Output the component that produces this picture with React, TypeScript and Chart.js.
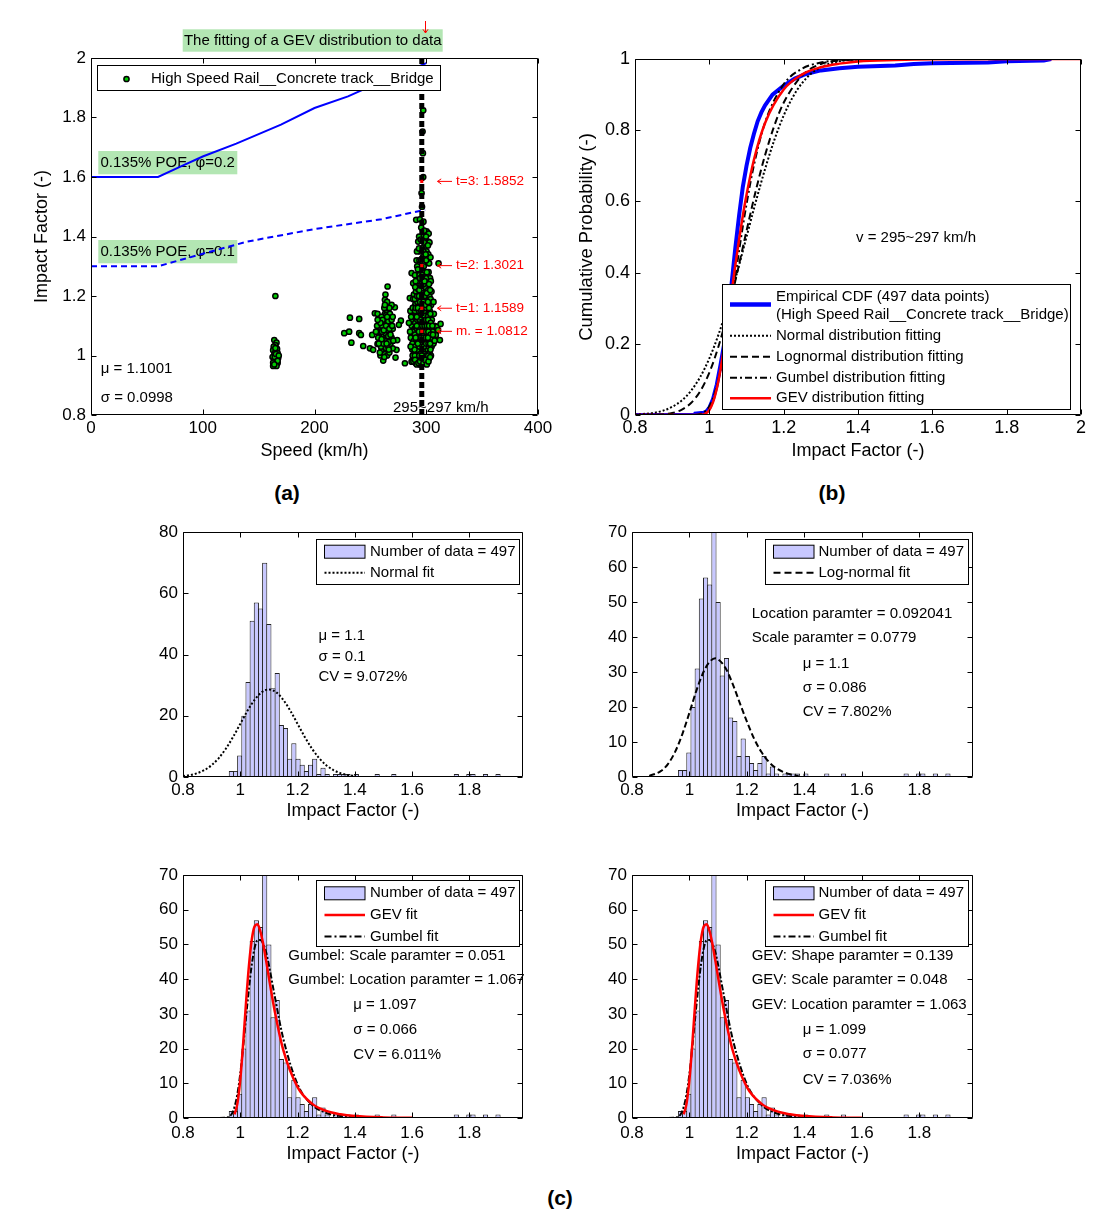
import React, { useEffect, useRef } from 'react';
import { Chart, registerables } from 'chart.js';

Chart.register(...registerables);

const FONT = "'Liberation Sans', Arial, Helvetica, sans-serif";
Chart.defaults.font.family = FONT;
Chart.defaults.color = '#000';

type Pt = [number, number];

/* ======================= (a) Impact factor vs speed ======================= */
const SPEED_TICKS = [0, 100, 200, 300, 400];
const IF_TICKS_A = [0.8, 1, 1.2, 1.4, 1.6, 1.8, 2];

const SCATTER_165: Pt[] = [
  [165, 1.2], [164, 1.052], [166, 1.043], [165, 1.035], [163.5, 1.03], [166.5, 1.022], [163, 1.018],
  [165, 1.012], [167, 1.008], [164, 1.003], [166, 1.0], [162.5, 0.995], [165, 0.99], [167.5, 0.992],
  [164, 0.985], [166, 0.98], [163, 0.976], [165.5, 0.97], [167, 0.975], [166, 0.965], [164.5, 0.995],
  [165.5, 1.005], [165, 1.025], [167, 0.982], [163, 0.965], [168, 1.0], [164, 0.97],
];

const SCATTER_265: Pt[] = [
  [231.7, 1.127], [240, 1.123], [226.6, 1.075], [231, 1.08], [233, 1.043], [240, 1.075], [241.5, 1.069],
  [243.6, 1.032], [249.6, 1.024], [252.5, 1.019], [251.6, 1.069], [254, 1.142], [256.4, 1.14],
  [256.4, 1.039], [261.5, 0.983], [272.5, 0.993], [287.4, 0.983], [277.3, 1.117], [275.5, 1.103],
  [271.9, 1.162], [269, 1.17], [274, 1.052], [273.4, 1.019], [270, 1.024],
  [259, 1.0], [261, 1.01], [263, 1.005], [265, 1.0], [267, 1.01], [260, 1.02], [262, 1.03], [264, 1.025],
  [266, 1.03], [268, 1.04], [259, 1.045], [261, 1.05], [263, 1.055], [265, 1.05], [267, 1.06], [260, 1.065],
  [262, 1.07], [264, 1.075], [266, 1.08], [268, 1.085], [261, 1.09], [263, 1.095], [265, 1.1], [267, 1.105],
  [262, 1.11], [264, 1.12], [266, 1.13], [263, 1.14], [265, 1.15], [264, 1.165], [265.4, 1.232],
  [263, 1.187], [264.4, 1.159], [258, 1.08], [257, 1.06], [269, 1.06], [270, 1.09], [258, 1.12],
  [262.5, 0.995], [266.5, 1.045], [260.5, 1.1], [267.5, 1.125], [263.5, 1.205],
  [259.5, 1.03], [261.5, 1.04], [263.5, 1.075], [265.5, 1.085], [262, 1.125], [264, 1.135], [266, 1.115],
  [268, 1.1], [260, 1.13], [265, 1.18], [267, 1.16], [266.5, 1.02], [260.5, 1.08], [269, 1.12], [262.5, 1.16],
  [256, 1.1], [255, 1.08], [270.5, 1.05], [264.5, 1.04], [267.5, 1.14],
  [258.5, 1.01], [260, 1.055], [262, 1.085], [264, 1.1], [266, 1.065], [268, 1.07], [261, 1.12], [263, 1.17],
  [265, 1.13], [267, 1.09], [259, 1.11], [269.5, 1.1], [257.5, 1.04], [270, 1.13], [256.5, 1.12],
];

const SCATTER_296: Pt[] = [
  [286.9, 0.979], [280.9, 0.974], [287.5, 1.02], [286.2, 1.06], [287.0, 1.1], [285.3, 1.193], [286.9, 1.277],
  [288.3, 1.243], [285.8, 1.15],
  [289.0, 0.99], [289.4, 1.01], [288.6, 1.035], [289.2, 1.05], [288.8, 1.075], [289.6, 1.09], [288.4, 1.115],
  [289.1, 1.135], [289.7, 1.165], [288.9, 1.205],
  [290.5, 0.975], [291.2, 0.995], [290.8, 1.005], [291.4, 1.02], [290.6, 1.04], [291.0, 1.055], [290.3, 1.065],
  [291.5, 1.08], [290.9, 1.095], [291.3, 1.105], [290.7, 1.125], [291.1, 1.145], [290.4, 1.175], [291.3, 1.32],
  [291.0, 1.456], [290.8, 1.215],
  [292.8, 0.985], [292.4, 1.0], [293.1, 1.012], [292.6, 1.028], [293.3, 1.04], [292.2, 1.05], [293.0, 1.06],
  [292.5, 1.072], [293.4, 1.082], [292.9, 1.092], [292.3, 1.1], [293.2, 1.112], [292.7, 1.13], [293.5, 1.15],
  [292.1, 1.18], [293.0, 1.222], [292.6, 1.27], [292.8, 1.383],
  [294.3, 0.97], [294.8, 0.99], [295.2, 1.0], [294.5, 1.015], [295.6, 1.03], [294.1, 1.04], [295.0, 1.05],
  [294.7, 1.06], [295.4, 1.07], [294.2, 1.08], [295.1, 1.09], [294.6, 1.1], [295.3, 1.12], [294.9, 1.14],
  [294.4, 1.16], [295.5, 1.2], [294.8, 1.24], [295.2, 1.3], [294.6, 1.35], [294.3, 1.458],
  [295.8, 0.968], [296.5, 0.985], [297.2, 1.0], [296.8, 1.02], [297.5, 1.035], [296.3, 1.045], [297.0, 1.055],
  [296.6, 1.065], [297.4, 1.075], [296.2, 1.085], [297.1, 1.095], [296.9, 1.105], [297.6, 1.115], [296.4, 1.125],
  [297.3, 1.14], [296.7, 1.155], [297.0, 1.17], [296.1, 1.19], [297.5, 1.21], [296.8, 1.235], [297.2, 1.26],
  [296.5, 1.29], [297.0, 1.33], [296.6, 1.4], [295.8, 1.546], [297.3, 1.6], [296.7, 1.753], [297.3, 1.824],
  [297.0, 1.68],
  [298.2, 0.98], [298.8, 0.995], [299.3, 1.008], [298.5, 1.022], [299.6, 1.038], [298.1, 1.048], [299.0, 1.058],
  [298.7, 1.068], [299.4, 1.078], [298.3, 1.088], [299.2, 1.098], [298.9, 1.108], [299.5, 1.122], [298.4, 1.135],
  [299.1, 1.15], [298.6, 1.17], [299.3, 1.2], [298.8, 1.23], [299.0, 1.28], [298.5, 1.36],
  [300.3, 0.985], [300.8, 1.0], [301.3, 1.02], [300.5, 1.032], [301.0, 1.048], [300.2, 1.06], [301.5, 1.075],
  [300.7, 1.088], [301.2, 1.1], [300.4, 1.115], [301.4, 1.13], [300.9, 1.16], [300.6, 1.19], [301.1, 1.25],
  [300.3, 1.35], [301.7, 1.311], [300.8, 1.413], [301.7, 1.383], [300.3, 1.417],
  [302.5, 0.99], [303.0, 1.01], [302.3, 1.03], [303.3, 1.05], [302.7, 1.07], [303.6, 1.09], [302.2, 1.12],
  [303.1, 1.15], [302.8, 1.2], [303.4, 1.26], [302.6, 1.31], [302.9, 1.38], [302.2, 1.41],
  [304.2, 1.0], [304.8, 1.03], [305.3, 1.06], [304.5, 1.09], [305.0, 1.12], [304.3, 1.17], [304.7, 1.215],
  [305.8, 1.08], [306.5, 1.04], [307.2, 1.1], [306.8, 1.14], [308.6, 1.069], [309.7, 1.097], [311.0, 1.31],
  [312.2, 1.052], [312.8, 1.106], [310.6, 1.085],
  [287.8, 1.0], [287.6, 1.04], [288.0, 1.08], [287.7, 1.12], [287.9, 1.16], [288.2, 1.19],
  [289.8, 1.0], [290.1, 1.03], [289.9, 1.07], [290.2, 1.11], [290.0, 1.15], [289.7, 1.19], [290.1, 1.23],
  [289.9, 1.27], [291.8, 0.98], [292.0, 1.02], [291.7, 1.06], [291.9, 1.09], [292.0, 1.12], [291.6, 1.16],
  [291.8, 1.2], [292.0, 1.25], [291.9, 1.3], [291.7, 1.35], [293.8, 1.0], [293.9, 1.03], [293.7, 1.06],
  [293.8, 1.09], [294.0, 1.12], [293.7, 1.15], [293.9, 1.19], [293.8, 1.22], [294.0, 1.27], [293.9, 1.32],
  [293.6, 1.4], [297.8, 0.99], [297.9, 1.03], [297.7, 1.07], [297.8, 1.11], [298.0, 1.15], [297.9, 1.19],
  [297.7, 1.24], [297.8, 1.3], [298.0, 1.38], [299.8, 1.0], [299.9, 1.04], [299.7, 1.08], [299.8, 1.12],
  [300.0, 1.16], [299.9, 1.21], [299.7, 1.26], [299.9, 1.32], [299.8, 1.4], [301.8, 1.0], [302.0, 1.04],
  [301.9, 1.08], [301.7, 1.12], [302.0, 1.17], [301.8, 1.22], [302.1, 1.28], [301.9, 1.34], [303.8, 1.02],
  [303.9, 1.07], [304.0, 1.11], [303.7, 1.14], [303.9, 1.19], [304.1, 1.25], [303.8, 1.33], [296.0, 1.36],
  [295.5, 1.43], [297.5, 1.45], [296.2, 1.5], [298.2, 1.42], [295.0, 1.39],
  [289.5, 1.02], [290.5, 1.06], [291.5, 1.1], [292.5, 1.04], [293.5, 1.08], [294.5, 1.12], [295.5, 1.06],
  [296.5, 1.1], [297.5, 1.06], [298.5, 1.1], [299.5, 1.06], [300.5, 1.1], [301.5, 1.06], [302.5, 1.1],
  [303.5, 1.04], [289.5, 1.13], [290.5, 1.16], [291.5, 1.13], [292.5, 1.16], [293.5, 1.2], [294.5, 1.18],
  [295.5, 1.15], [296.5, 1.2], [297.5, 1.18], [298.5, 1.2], [299.5, 1.17], [300.5, 1.21], [301.5, 1.18],
  [302.5, 1.16], [303.5, 1.22], [288.5, 0.98], [290, 0.985], [291.5, 0.97], [293, 0.975], [294.5, 0.98],
  [296, 1.0], [297.5, 0.975], [299, 0.985], [300.5, 0.97], [302, 0.98], [303.5, 0.995], [290.5, 1.25],
  [292.5, 1.29], [294.5, 1.26], [296.5, 1.27], [298.5, 1.25], [300.5, 1.28], [302.5, 1.24], [295.5, 1.32],
  [297.5, 1.35], [299.5, 1.34], [293.5, 1.36], [301.5, 1.37], [286, 1.03], [285.5, 1.08], [286.5, 1.13],
  [284.5, 1.11], [306, 1.07], [305.5, 1.1], [306.5, 1.18], [307.5, 1.05],
];

const POE_PHI_02: Pt[] = [
  [0, 1.6], [60, 1.6], [80, 1.635], [100, 1.669], [130, 1.712], [170, 1.776], [200, 1.832], [230, 1.871],
  [245, 1.896], [270, 1.935], [300, 1.983],
];
const POE_PHI_01: Pt[] = [
  [0, 1.3], [60, 1.3], [100, 1.342], [140, 1.383], [200, 1.425], [260, 1.458], [299, 1.49],
];
const SPEED_BAND: Pt[] = [[296, 0.8], [296, 2]];
const PERCENTILE_SPEED = 296;
const PERCENTILE_VALUES = [1.0812, 1.1589, 1.3021, 1.5852];
const PERCENTILE_LABELS = ['m. = 1.0812', 't=1: 1.1589', 't=2: 1.3021', 't=3: 1.5852'];

/* ======================= (b) Cumulative probability ======================= */
const IF_TICKS_B = [0.8, 1, 1.2, 1.4, 1.6, 1.8, 2];
const PROB_TICKS = [0, 0.2, 0.4, 0.6, 0.8, 1];

const EMPIRICAL_CDF: Pt[] = [
  [0.8, 0], [0.96, 0], [0.962, 0.004], [0.985, 0.006], [0.992, 0.01], [1.0, 0.02], [1.01, 0.045],
  [1.02, 0.085], [1.03, 0.14], [1.04, 0.2], [1.05, 0.27], [1.06, 0.37], [1.07, 0.47], [1.08, 0.56],
  [1.09, 0.64], [1.1, 0.7], [1.11, 0.75], [1.12, 0.79], [1.13, 0.825], [1.14, 0.85], [1.15, 0.87],
  [1.17, 0.9], [1.2, 0.925], [1.23, 0.945], [1.26, 0.958], [1.3, 0.968], [1.35, 0.974], [1.4, 0.978],
  [1.5, 0.982], [1.55, 0.986], [1.6, 0.988], [1.75, 0.99], [1.8, 0.994], [1.9, 0.996], [1.92, 1.0],
];
const NORMAL_CDF: Pt[] = [
  [0.8, 0.001], [0.85, 0.006], [0.875, 0.012], [0.9, 0.023], [0.925, 0.04], [0.95, 0.067], [0.975, 0.106],
  [1.0, 0.159], [1.025, 0.227], [1.05, 0.309], [1.075, 0.401], [1.1, 0.5], [1.125, 0.599], [1.15, 0.691],
  [1.175, 0.773], [1.2, 0.841], [1.225, 0.894], [1.25, 0.933], [1.275, 0.96], [1.3, 0.977], [1.35, 0.994],
  [1.4, 0.999], [1.5, 1], [2, 1],
];
const LOGNORMAL_CDF: Pt[] = [
  [0.8, 0], [0.85, 0.0005], [0.9, 0.0056], [0.925, 0.0146], [0.95, 0.033], [0.975, 0.066], [1.0, 0.119],
  [1.025, 0.194], [1.05, 0.289], [1.075, 0.4], [1.1, 0.517], [1.125, 0.63], [1.15, 0.73], [1.175, 0.813],
  [1.2, 0.877], [1.25, 0.954], [1.3, 0.986], [1.35, 0.996], [1.4, 0.999], [1.5, 1], [2, 1],
];
const GUMBEL_CDF: Pt[] = [
  [0.8, 0], [0.93, 0], [0.95, 0.0001], [0.97, 0.0012], [0.99, 0.011], [1.0, 0.024], [1.01, 0.047],
  [1.02, 0.081], [1.03, 0.127], [1.04, 0.183], [1.05, 0.248], [1.06, 0.318], [1.07, 0.39], [1.08, 0.461],
  [1.09, 0.529], [1.1, 0.592], [1.12, 0.702], [1.15, 0.822], [1.2, 0.929], [1.25, 0.973], [1.3, 0.99],
  [1.35, 0.996], [1.4, 0.9985], [1.5, 1], [2, 1],
];
const GEV_CDF: Pt[] = [
  [0.8, 0], [0.96, 0], [0.98, 0.0007], [0.99, 0.004], [1.0, 0.014], [1.01, 0.036], [1.02, 0.074],
  [1.03, 0.128], [1.04, 0.194], [1.05, 0.268], [1.06, 0.345], [1.07, 0.421], [1.08, 0.493], [1.09, 0.559],
  [1.1, 0.618], [1.12, 0.717], [1.15, 0.82], [1.2, 0.914], [1.25, 0.957], [1.3, 0.977], [1.35, 0.987],
  [1.4, 0.993], [1.5, 0.997], [1.6, 0.999], [2, 1],
];

/* ======================= (c) Histograms ======================= */
const HIST_X_TICKS = [0.8, 1, 1.2, 1.4, 1.6, 1.8];
const COUNT_TICKS_80 = [0, 20, 40, 60, 80];
const COUNT_TICKS_70 = [0, 10, 20, 30, 40, 50, 60, 70];
const HIST_BIN_START = 0.9616;
const HIST_BIN_WIDTH = 0.014545;
const HIST_COUNTS = [
  2, 2, 7, 20, 31, 51, 57, 55, 70, 50, 29, 34, 17, 16, 6, 11, 6, 4, 2, 4, 6, 1, 3, 1, 0, 1, 1, 1, 1, 0, 1,
  0, 0, 0, 0, 1, 0, 0, 0, 1, 0, 0, 0, 0, 0, 0, 0, 0, 0, 0, 0, 0, 0, 0, 1, 0, 0, 1, 1, 0, 0, 1, 0, 0, 1,
];
const NORMAL_PDF: Pt[] = [
  [0.8, 0.32], [0.825, 0.65], [0.85, 1.26], [0.875, 2.28], [0.9, 3.87], [0.925, 6.19], [0.95, 9.29],
  [0.975, 13.1], [1.0, 17.35], [1.025, 21.6], [1.05, 25.2], [1.075, 27.7], [1.1, 28.6], [1.125, 27.7],
  [1.15, 25.2], [1.175, 21.6], [1.2, 17.35], [1.225, 13.1], [1.25, 9.29], [1.275, 6.19], [1.3, 3.87],
  [1.325, 2.28], [1.35, 1.26], [1.375, 0.65], [1.4, 0.32],
];
const LOGNORMAL_PDF: Pt[] = [
  [0.86, 0.33], [0.9, 1.66], [0.925, 3.7], [0.95, 7.17], [0.975, 12.2], [1.0, 18.4], [1.025, 24.9],
  [1.05, 30.2], [1.07, 32.9], [1.09, 33.9], [1.1, 33.6], [1.125, 31.2], [1.15, 26.7], [1.175, 21.2],
  [1.2, 15.8], [1.225, 10.97], [1.25, 7.19], [1.275, 4.45], [1.3, 2.61], [1.35, 0.77], [1.38, 0.34],
];
const GEV_PDF: Pt[] = [
  [0.98, 1.04], [0.99, 4.2], [1.0, 11.1], [1.01, 21.4], [1.02, 33.2], [1.03, 43.7], [1.04, 51.3],
  [1.05, 55.2], [1.06, 55.8], [1.07, 53.8], [1.08, 50.1], [1.09, 45.4], [1.1, 40.4], [1.12, 30.9],
  [1.15, 19.6], [1.2, 8.9], [1.25, 4.15], [1.3, 2.03], [1.35, 1.05], [1.4, 0.56], [1.5, 0.18], [1.6, 0.07],
];
const GUMBEL_PDF: Pt[] = [
  [0.8, 0], [0.9, 0], [0.95, 0.07], [0.97, 1.17], [0.98, 3.2], [0.99, 6.95], [1.0, 12.8], [1.01, 20.4],
  [1.02, 28.9], [1.03, 37.1], [1.04, 44.1], [1.05, 49.0], [1.06, 51.2], [1.07, 51.3], [1.08, 50.2],
  [1.09, 47.8], [1.1, 44.0], [1.12, 35.2], [1.15, 22.9], [1.2, 9.7], [1.25, 3.8], [1.3, 1.45], [1.35, 0.55],
  [1.4, 0.21], [1.5, 0.03], [1.6, 0], [1.987, 0],
];

/* ======================= helpers ======================= */
const xy = (a: Pt[]) => a.map(([x, y]) => ({ x, y }));
const fmt = (v: number) => String(Number(Number(v).toFixed(3)));

interface AxisSpec {
  min: number; max: number; ticks: number[]; size: number; pad: number; extent: number;
  title?: string; titleSize?: number; titlePad?: number;
}

function xAxis(s: AxisSpec) {
  return {
    type: 'linear', position: 'bottom', min: s.min, max: s.max, offset: false,
    afterBuildTicks: (sc: any) => { sc.ticks = s.ticks.map((value) => ({ value })); },
    afterFit: (sc: any) => { sc.height = s.extent; },
    grid: { display: false, drawTicks: false },
    border: { display: false },
    ticks: {
      font: { size: s.size, family: FONT }, color: '#000', padding: s.pad, maxRotation: 0, minRotation: 0,
      autoSkip: false, callback: (v: any) => fmt(v),
    },
    title: {
      display: !!s.title, text: s.title || '', color: '#000',
      font: { size: s.titleSize || 18, family: FONT }, padding: { top: 0, bottom: s.titlePad || 0 },
    },
  };
}

function yAxis(s: AxisSpec) {
  return {
    type: 'linear', position: 'left', min: s.min, max: s.max, offset: false,
    afterBuildTicks: (sc: any) => { sc.ticks = s.ticks.map((value) => ({ value })); },
    afterFit: (sc: any) => { sc.width = s.extent; },
    grid: { display: false, drawTicks: false },
    border: { display: false },
    ticks: {
      font: { size: s.size, family: FONT }, color: '#000', padding: s.pad, autoSkip: false,
      callback: (v: any) => fmt(v),
    },
    title: {
      display: !!s.title, text: s.title || '', color: '#000',
      font: { size: s.titleSize || 18, family: FONT }, padding: { top: s.titlePad || 0, bottom: 0 },
    },
  };
}

function frame(chart: any, tl: number) {
  const { ctx, chartArea: a, scales } = chart;
  const L = Math.round(a.left) + 0.5, R = Math.round(a.right) - 0.5;
  const T = Math.round(a.top) + 0.5, B = Math.round(a.bottom) - 0.5;
  ctx.save();
  ctx.strokeStyle = '#000';
  ctx.lineWidth = 1;
  ctx.setLineDash([]);
  ctx.beginPath();
  ctx.rect(L, T, R - L, B - T);
  for (const t of scales.x.ticks) {
    const px = Math.round(scales.x.getPixelForValue(t.value)) + 0.5;
    ctx.moveTo(px, B); ctx.lineTo(px, B - tl);
    ctx.moveTo(px, T); ctx.lineTo(px, T + tl);
  }
  for (const t of scales.y.ticks) {
    const py = Math.round(scales.y.getPixelForValue(t.value)) + 0.5;
    ctx.moveTo(L, py); ctx.lineTo(L + tl, py);
    ctx.moveTo(R, py); ctx.lineTo(R - tl, py);
  }
  ctx.stroke();
  ctx.restore();
}

function text(ctx: CanvasRenderingContext2D, s: string, x: number, y: number, size: number,
  color = '#000', align: CanvasTextAlign = 'left') {
  ctx.save();
  ctx.font = `${size}px ${FONT}`;
  ctx.fillStyle = color;
  ctx.textAlign = align;
  ctx.textBaseline = 'middle';
  ctx.fillText(s, x, y);
  ctx.restore();
}

function rectBox(ctx: CanvasRenderingContext2D, x0: number, y0: number, x1: number, y1: number,
  fill: string, stroke?: string) {
  ctx.save();
  ctx.fillStyle = fill;
  ctx.fillRect(x0, y0, x1 - x0, y1 - y0);
  if (stroke) {
    ctx.strokeStyle = stroke;
    ctx.lineWidth = 1;
    ctx.setLineDash([]);
    ctx.strokeRect(x0, y0, x1 - x0, y1 - y0);
  }
  ctx.restore();
}

function sample(ctx: CanvasRenderingContext2D, x0: number, x1: number, y: number, color: string,
  width: number, dash: number[]) {
  ctx.save();
  ctx.strokeStyle = color;
  ctx.lineWidth = width;
  ctx.setLineDash(dash);
  ctx.beginPath();
  ctx.moveTo(x0, y);
  ctx.lineTo(x1, y);
  ctx.stroke();
  ctx.restore();
}

function arrow(ctx: CanvasRenderingContext2D, x0: number, y0: number, x1: number, y1: number, color: string) {
  const ang = Math.atan2(y1 - y0, x1 - x0);
  const h = 4.5;
  ctx.save();
  ctx.strokeStyle = color;
  ctx.lineWidth = 1;
  ctx.setLineDash([]);
  ctx.beginPath();
  ctx.moveTo(x0, y0);
  ctx.lineTo(x1, y1);
  ctx.moveTo(x1 - h * Math.cos(ang - 0.6), y1 - h * Math.sin(ang - 0.6));
  ctx.lineTo(x1, y1);
  ctx.lineTo(x1 - h * Math.cos(ang + 0.6), y1 - h * Math.sin(ang + 0.6));
  ctx.stroke();
  ctx.restore();
}

const GREEN_BOX = 'rgb(179,230,179)';
const POINT_GREEN = '#00cc00';
const DOT = [2, 2];
const DASH = [7, 4];
const DASHDOT = [7, 3, 2, 3];

function baseOptions(padTop: number, padRight: number, scales: any) {
  return {
    responsive: false, animation: false, devicePixelRatio: 1, events: [],
    layout: { padding: { left: 0, top: padTop, right: padRight, bottom: 0 } },
    plugins: { legend: { display: false }, tooltip: { enabled: false }, title: { display: false } },
    scales,
  };
}

/* ======================= panel (a) ======================= */
const PA = { left: 20, top: 18, width: 545, height: 450 };

function configA() {
  const ox = PA.left, oy = PA.top;
  return {
    type: 'scatter',
    data: {
      datasets: [
        {
          type: 'scatter', data: PERCENTILE_VALUES.map((v) => ({ x: PERCENTILE_SPEED, y: v })),
          pointStyle: 'rect', pointRadius: 2.2, pointBackgroundColor: '#ff0000', pointBorderColor: '#ff0000',
          pointBorderWidth: 0, order: 0,
        },
        {
          type: 'line', data: xy(SPEED_BAND), borderColor: '#000', borderWidth: 5, borderDash: [6, 3],
          pointRadius: 0, order: 1,
        },
        {
          type: 'scatter', data: xy([...SCATTER_165, ...SCATTER_265, ...SCATTER_296]),
          pointRadius: 2.6, pointBackgroundColor: POINT_GREEN, pointBorderColor: '#000', pointBorderWidth: 1.5,
          backgroundColor: POINT_GREEN, borderColor: '#000', order: 2,
        },
        {
          type: 'line', data: xy(POE_PHI_02), borderColor: '#0000ff', borderWidth: 2, pointRadius: 0,
          tension: 0, order: 3,
        },
        {
          type: 'line', data: xy(POE_PHI_01), borderColor: '#0000ff', borderWidth: 2, borderDash: [6, 4],
          pointRadius: 0, tension: 0, order: 3,
        },
      ],
    },
    options: baseOptions(40, 27, {
      x: xAxis({ min: 0, max: 400, ticks: SPEED_TICKS, size: 17, pad: 3, extent: 53, title: 'Speed (km/h)', titleSize: 18, titlePad: 6 }),
      y: yAxis({ min: 0.8, max: 2, ticks: IF_TICKS_A, size: 17, pad: 5, extent: 71, title: 'Impact Factor (-)', titleSize: 18, titlePad: 11 }),
    }),
    plugins: [{
      id: 'decorA',
      beforeDatasetsDraw(chart: any) {
        const ctx = chart.ctx;
        rectBox(ctx, 98.3 - ox, 151 - oy, 237.3 - ox, 174.3 - oy, GREEN_BOX);
        text(ctx, '0.135% POE, φ=0.2', 100.5 - ox, 162.5 - oy, 15);
        rectBox(ctx, 98.3 - ox, 240 - oy, 237.3 - ox, 263.3 - oy, GREEN_BOX);
        text(ctx, '0.135% POE, φ=0.1', 100.5 - ox, 251.5 - oy, 15);
        text(ctx, '295~297 km/h', 393 - ox, 408 - oy, 15);
      },
      afterDatasetsDraw(chart: any) {
        const ctx = chart.ctx;
        frame(chart, 5);
        rectBox(ctx, 97.5 - ox, 65.5 - oy, 440.5 - ox, 90.5 - oy, '#fff', '#000');
        ctx.save();
        ctx.beginPath();
        ctx.arc(126.5 - ox, 79 - oy, 2.6, 0, Math.PI * 2);
        ctx.fillStyle = POINT_GREEN;
        ctx.fill();
        ctx.strokeStyle = '#000';
        ctx.lineWidth = 1.5;
        ctx.stroke();
        ctx.restore();
        text(ctx, 'High Speed Rail__Concrete track__Bridge', 151 - ox, 79 - oy, 15);
        rectBox(ctx, 182.7 - ox, 29.3 - oy, 442.7 - ox, 51.7 - oy, GREEN_BOX);
        text(ctx, 'The fitting of a GEV distribution to data', 312.7 - ox, 40.5 - oy, 15, '#000', 'center');
        arrow(ctx, 425.5 - ox, 21 - oy, 425.5 - ox, 33 - oy, '#ff0000');
        const ys = chart.scales.y;
        PERCENTILE_VALUES.forEach((v, i) => {
          const py = ys.getPixelForValue(v);
          arrow(ctx, 452 - ox, py, 437.5 - ox, py, '#ff0000');
          text(ctx, PERCENTILE_LABELS[i], 456 - ox, py, 13.5, '#ff0000');
        });
        text(ctx, 'μ = 1.1001', 100.7 - ox, 368.5 - oy, 15);
        text(ctx, 'σ = 0.0998', 100.7 - ox, 397.5 - oy, 15);
      },
    }],
  };
}

/* ======================= panel (b) ======================= */
const PB = { left: 565, top: 18, width: 530, height: 450 };

function configB() {
  const ox = PB.left, oy = PB.top;
  return {
    type: 'line',
    data: {
      datasets: [
        { data: xy(GEV_CDF), borderColor: '#ff0000', borderWidth: 2.5, pointRadius: 0, cubicInterpolationMode: 'monotone', order: 0 },
        { data: xy(GUMBEL_CDF), borderColor: '#000', borderWidth: 2, borderDash: DASHDOT, pointRadius: 0, cubicInterpolationMode: 'monotone', order: 1 },
        { data: xy(LOGNORMAL_CDF), borderColor: '#000', borderWidth: 2, borderDash: DASH, pointRadius: 0, cubicInterpolationMode: 'monotone', order: 2 },
        { data: xy(NORMAL_CDF), borderColor: '#000', borderWidth: 2, borderDash: DOT, pointRadius: 0, cubicInterpolationMode: 'monotone', order: 3 },
        { data: xy(EMPIRICAL_CDF), borderColor: '#0000ff', borderWidth: 4, pointRadius: 0, tension: 0, order: 4 },
      ],
    },
    options: baseOptions(41, 14, {
      x: xAxis({ min: 0.8, max: 2, ticks: IF_TICKS_B, size: 18, pad: 2, extent: 53, title: 'Impact Factor (-)', titleSize: 18, titlePad: 6 }),
      y: yAxis({ min: 0, max: 1, ticks: PROB_TICKS, size: 18, pad: 5, extent: 70, title: 'Cumulative Probability (-)', titleSize: 18.5, titlePad: 11 }),
    }),
    plugins: [{
      id: 'decorB',
      afterDatasetsDraw(chart: any) {
        const ctx = chart.ctx;
        frame(chart, 5);
        text(ctx, 'v = 295~297 km/h', 856 - ox, 237.5 - oy, 15);
        rectBox(ctx, 722.5 - ox, 284.5 - oy, 1070.5 - ox, 409.5 - oy, '#fff', '#000');
        const sx0 = 730 - ox, sx1 = 771 - ox, tx = 776 - ox;
        sample(ctx, sx0, sx1, 304.5 - oy, '#0000ff', 4.5, []);
        text(ctx, 'Empirical CDF (497 data points)', tx, 296.7 - oy, 15);
        text(ctx, '(High Speed Rail__Concrete track__Bridge)', tx, 315 - oy, 15);
        sample(ctx, sx0, sx1, 335.7 - oy, '#000', 2, DOT);
        text(ctx, 'Normal distribution fitting', tx, 335.7 - oy, 15);
        sample(ctx, sx0, sx1, 356.7 - oy, '#000', 2, DASH);
        text(ctx, 'Lognormal distribution fitting', tx, 356.7 - oy, 15);
        sample(ctx, sx0, sx1, 377.7 - oy, '#000', 2, DASHDOT);
        text(ctx, 'Gumbel distribution fitting', tx, 377.7 - oy, 15);
        sample(ctx, sx0, sx1, 398.3 - oy, '#ff0000', 2.5, []);
        text(ctx, 'GEV distribution fitting', tx, 398.3 - oy, 15);
      },
    }],
  };
}

/* ======================= panel (c) ======================= */
interface CurveSpec { data: Pt[]; color: string; width: number; dash: number[] }
interface LegendRow { kind: 'patch' | 'line'; label: string; y: number; color?: string; width?: number; dash?: number[] }
interface HistSpec {
  left: number; top: number; width: number; height: number; xExtent: number; yExtent: number;
  yMax: number; yTicks: number[]; xTickPad: number;
  curves: CurveSpec[];
  legendBox: [number, number, number, number];
  rows: LegendRow[];
  sampleX: [number, number];
  textX: number;
  notes: [string, number, number][];
}

function configHist(h: HistSpec) {
  const ox = h.left, oy = h.top;
  const bars = HIST_COUNTS.map((c, i) => ({ x: HIST_BIN_START + (i + 0.5) * HIST_BIN_WIDTH, y: c }));
  const plotWidth = h.width - h.yExtent - 12;
  const binPx = (HIST_BIN_WIDTH / (1.987 - 0.8)) * plotWidth;
  const barPct = (binPx + 1) / binPx;
  return {
    type: 'bar',
    data: {
      datasets: [
        ...h.curves.map((c, i) => ({
          type: 'line', data: xy(c.data), borderColor: c.color, borderWidth: c.width, borderDash: c.dash,
          pointRadius: 0, cubicInterpolationMode: 'monotone', order: i,
        })),
        {
          type: 'bar', data: bars, backgroundColor: '#c8c8ff', borderColor: '#222', borderWidth: 1,
          borderSkipped: false, barPercentage: barPct, categoryPercentage: 1, order: 10,
        },
      ],
    },
    options: baseOptions(17, 12, {
      x: xAxis({ min: 0.8, max: 1.987, ticks: HIST_X_TICKS, size: 17, pad: h.xTickPad, extent: h.xExtent, title: 'Impact Factor (-)', titleSize: 18, titlePad: 3 }),
      y: yAxis({ min: 0, max: h.yMax, ticks: h.yTicks, size: 17, pad: 5, extent: h.yExtent }),
    }),
    plugins: [{
      id: 'decorHist',
      afterDatasetsDraw(chart: any) {
        const ctx = chart.ctx;
        frame(chart, 5);
        const [bx0, by0, bx1, by1] = h.legendBox;
        rectBox(ctx, bx0 - ox, by0 - oy, bx1 - ox, by1 - oy, '#fff', '#000');
        for (const r of h.rows) {
          if (r.kind === 'patch') {
            rectBox(ctx, h.sampleX[0] - ox, r.y - 6.5 - oy, h.sampleX[1] - ox, r.y + 6.5 - oy, '#c8c8ff', '#000');
          } else {
            sample(ctx, h.sampleX[0] - ox, h.sampleX[1] - ox, r.y - oy, r.color || '#000', r.width || 2, r.dash || []);
          }
          text(ctx, r.label, h.textX - ox, r.y - oy, 15);
        }
        for (const [s, x, y] of h.notes) text(ctx, s, x - ox, y - oy, 15);
      },
    }],
  };
}

const H1: HistSpec = {
  left: 130, top: 515, width: 405, height: 310, xExtent: 48, yExtent: 53, yMax: 80, yTicks: COUNT_TICKS_80, xTickPad: 3,
  curves: [{ data: NORMAL_PDF, color: '#000', width: 2, dash: DOT }],
  legendBox: [316.5, 539.5, 519.5, 584.5],
  rows: [
    { kind: 'patch', label: 'Number of data = 497', y: 551.7 },
    { kind: 'line', label: 'Normal fit', y: 572.7, dash: DOT },
  ],
  sampleX: [324.5, 365], textX: 370,
  notes: [['μ = 1.1', 318.5, 636], ['σ = 0.1', 318.5, 656.7], ['CV = 9.072%', 318.5, 676.7]],
};
const H2: HistSpec = {
  left: 580, top: 515, width: 405, height: 310, xExtent: 48, yExtent: 52, yMax: 70, yTicks: COUNT_TICKS_70, xTickPad: 3,
  curves: [{ data: LOGNORMAL_PDF, color: '#000', width: 2, dash: [6, 3] }],
  legendBox: [765.5, 539.5, 968.5, 584.5],
  rows: [
    { kind: 'patch', label: 'Number of data = 497', y: 551.7 },
    { kind: 'line', label: 'Log-normal fit', y: 572.7, dash: DASH },
  ],
  sampleX: [773.5, 814], textX: 818.5,
  notes: [
    ['Location paramter = 0.092041', 751.7, 614.3], ['Scale paramter = 0.0779', 751.7, 638.3],
    ['μ = 1.1', 802.7, 664.3], ['σ = 0.086', 802.7, 687.7], ['CV = 7.802%', 802.7, 711.7],
  ],
};
const H3: HistSpec = {
  left: 130, top: 858, width: 405, height: 310, xExtent: 50, yExtent: 53, yMax: 70, yTicks: COUNT_TICKS_70, xTickPad: 5,
  curves: [
    { data: GEV_PDF, color: '#ff0000', width: 2.5, dash: [] },
    { data: GUMBEL_PDF, color: '#000', width: 2, dash: [6, 2, 2, 2] },
  ],
  legendBox: [316.5, 880.5, 519.5, 946.5],
  rows: [
    { kind: 'patch', label: 'Number of data = 497', y: 893.3 },
    { kind: 'line', label: 'GEV fit', y: 915, color: '#ff0000', width: 2.5 },
    { kind: 'line', label: 'Gumbel fit', y: 936.5, dash: DASHDOT },
  ],
  sampleX: [324.5, 365], textX: 370,
  notes: [
    ['Gumbel: Scale paramter = 0.051', 288.3, 956], ['Gumbel: Location paramter = 1.067', 288.3, 980],
    ['μ = 1.097', 353.3, 1005], ['σ = 0.066', 353.3, 1030], ['CV = 6.011%', 353.3, 1055],
  ],
};
const H4: HistSpec = {
  left: 580, top: 858, width: 405, height: 310, xExtent: 50, yExtent: 52, yMax: 70, yTicks: COUNT_TICKS_70, xTickPad: 5,
  curves: [
    { data: GEV_PDF, color: '#ff0000', width: 2.5, dash: [] },
    { data: GUMBEL_PDF, color: '#000', width: 2, dash: [6, 2, 2, 2] },
  ],
  legendBox: [765.5, 880.5, 968.5, 946.5],
  rows: [
    { kind: 'patch', label: 'Number of data = 497', y: 893.3 },
    { kind: 'line', label: 'GEV fit', y: 915, color: '#ff0000', width: 2.5 },
    { kind: 'line', label: 'Gumbel fit', y: 936.5, dash: DASHDOT },
  ],
  sampleX: [773.5, 814], textX: 818.5,
  notes: [
    ['GEV: Shape paramter = 0.139', 751.7, 956], ['GEV: Scale paramter = 0.048', 751.7, 980],
    ['GEV: Location paramter = 1.063', 751.7, 1005], ['μ = 1.099', 802.7, 1030],
    ['σ = 0.077', 802.7, 1054.3], ['CV = 7.036%', 802.7, 1080],
  ],
};

/* ======================= components ======================= */
function Panel(props: { left: number; top: number; width: number; height: number; make: () => any }) {
  const ref = useRef<HTMLCanvasElement | null>(null);
  useEffect(() => {
    if (!ref.current) return;
    const chart = new Chart(ref.current, props.make());
    return () => chart.destroy();
  }, []);
  return (
    <canvas
      ref={ref}
      width={props.width}
      height={props.height}
      style={{ position: 'absolute', left: props.left, top: props.top, width: props.width, height: props.height }}
    />
  );
}

function Tag(props: { x: number; y: number; label: string }) {
  return (
    <div
      style={{
        position: 'absolute', left: props.x, top: props.y, transform: 'translate(-50%, -50%)',
        font: `bold 21px ${FONT}`, color: '#000', whiteSpace: 'nowrap',
      }}
    >
      {props.label}
    </div>
  );
}

export default function App() {
  return (
    <div style={{ position: 'absolute', left: 0, top: 0, width: 1113, height: 1216, background: '#fff', overflow: 'hidden' }}>
      <Panel {...PA} make={configA} />
      <Panel {...PB} make={configB} />
      <Panel left={H1.left} top={H1.top} width={H1.width} height={H1.height} make={() => configHist(H1)} />
      <Panel left={H2.left} top={H2.top} width={H2.width} height={H2.height} make={() => configHist(H2)} />
      <Panel left={H3.left} top={H3.top} width={H3.width} height={H3.height} make={() => configHist(H3)} />
      <Panel left={H4.left} top={H4.top} width={H4.width} height={H4.height} make={() => configHist(H4)} />
      <Tag x={287} y={493} label="(a)" />
      <Tag x={832} y={493} label="(b)" />
      <Tag x={560} y={1198} label="(c)" />
    </div>
  );
}
